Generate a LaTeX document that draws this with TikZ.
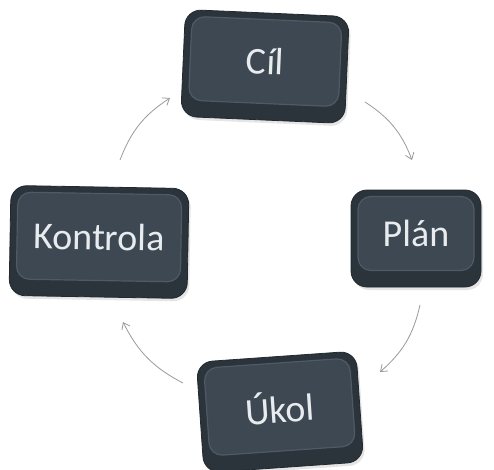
\documentclass[tikz,border=0pt]{standalone}
\usepackage{fontspec}
\setmainfont{Carlito}
\usetikzlibrary{arrows.meta,shadows}
\definecolor{keydark}{HTML}{2B333B}
\definecolor{keyface}{HTML}{3D4852}
\definecolor{keyrim}{HTML}{4E5A66}
\definecolor{arrowgray}{HTML}{9A9A9A}
\definecolor{keytext}{HTML}{E8ECEF}
\tikzset{
 keybody/.style={rounded corners=16pt, fill=keydark, draw=keydark!80!black, line width=0.8pt,
   drop shadow={opacity=0.2, shadow xshift=2pt, shadow yshift=-3pt}},
 keytop/.style={rounded corners=13pt, fill=keyface, draw=keyrim, line width=1.2pt, text=keytext,
   font=\fontsize{38}{44}\selectfont, inner sep=0pt},
 cyclearrow/.style={draw=arrowgray, line width=0.8pt, -{Straight Barb[length=6pt,width=9pt]}, bend left=18},
}
% name, x, y, rotation, body w, body h, face w, face h, text
\newcommand\drawkey[9]{%
 \begin{scope}[shift={(#2,#3)}, rotate=#4, transform shape]
  \node[keybody, minimum width=#5pt, minimum height=#6pt] (#1) at (0,0) {};
  \node[keytop, minimum width=#7pt, minimum height=#8pt] (#1-top) at (0,5) {#9};
 \end{scope}}
\begin{document}
\begin{tikzpicture}[x=1pt,y=1pt]
\fill[white] (0,0) rectangle (494,469);
\useasboundingbox (0,0) rectangle (494,469);
\drawkey{cil}{265}{402.5}{-2.5}{164}{107}{150}{84}{Cíl}
\drawkey{kontrola}{99}{227}{-1}{178}{110}{164}{87}{Kontrola}
\drawkey{plan}{416}{230.5}{0}{130}{97}{116}{74}{Plán}
\drawkey{ukol}{280}{57}{4}{160}{111}{146}{88}{Úkol}
\draw[cyclearrow] ([shift={(100,-35.5)}]cil.center) to ([shift={(-4,78.5)}]plan.center);
\draw[cyclearrow] ([shift={(4,-66.5)}]plan.center) to ([shift={(100,40)}]ukol.center);
\draw[cyclearrow] ([shift={(-97,29)}]ukol.center) to ([shift={(24,-80)}]kontrola.center);
\draw[cyclearrow] ([shift={(21,82)}]kontrola.center) to ([shift={(-95,-31.5)}]cil.center);
\end{tikzpicture}
\end{document}
